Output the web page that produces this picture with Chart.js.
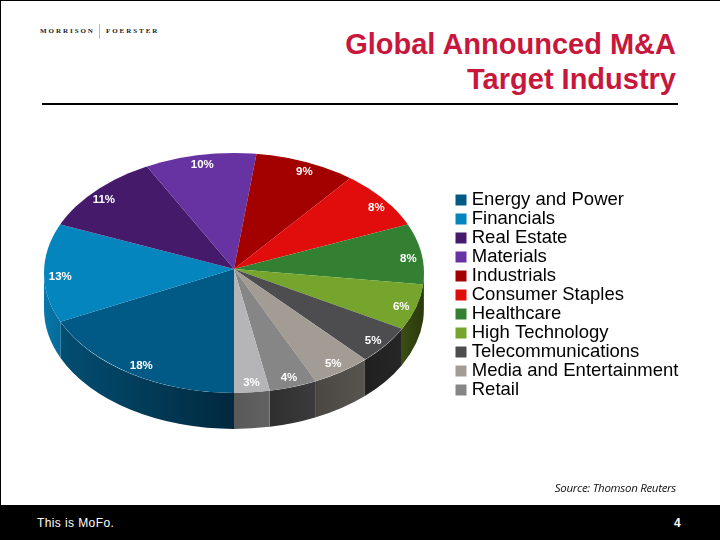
<!DOCTYPE html>
<html>
<head>
<meta charset="utf-8">
<title>Global Announced M&amp;A Target Industry</title>
<script src="https://cdn.jsdelivr.net/npm/chart.js@4"></script>
<style>
  html, body { margin: 0; padding: 0; background: #fff; }
  #slide { position: relative; width: 720px; height: 540px; overflow: hidden; font-family: "Liberation Sans", Arial, sans-serif; }
  #slide div { position: absolute; white-space: nowrap; }
  canvas { position: absolute; left: 0; top: 0; }
  #edgeTop { left: 0; top: 0; width: 720px; height: 1px; background: #000; }
  #edgeLeft { left: 0; top: 0; width: 1px; height: 505px; background: #000; }
  #logoA, #logoB { top: 27px; font: bold 7px "Liberation Serif", serif; letter-spacing: 1.95px; color: #222; }
  #logoA { left: 40px; }
  #logoB { left: 106px; }
  #logoBar { left: 99px; top: 24px; width: 1px; height: 15px; background: #bbb; }
  #title { right: 44px; top: 27px; text-align: right; font-weight: bold; font-size: 29px; line-height: 35px; color: #c8173c; }
  #rule { left: 42px; top: 103px; width: 636px; height: 2px; background: #000; }
  #source { right: 44px; top: 480px; font: italic 11.5px "Open Sans", sans-serif; letter-spacing: -0.3px; color: #111; }
  #footer { left: 0; top: 505px; width: 720px; height: 35px; background: #000; }
  #tagline { left: 37px; top: 516px; font-size: 12px; letter-spacing: 0.4px; color: #fff; }
  #page { left: 674px; top: 516px; font-size: 12px; font-weight: bold; color: #fff; }
</style>
</head>
<body>
<div id="slide">
  <div id="edgeTop"></div>
  <div id="edgeLeft"></div>
  <div id="logoA">MORRISON</div>
  <div id="logoBar"></div>
  <div id="logoB">FOERSTER</div>
  <div id="title">Global Announced M&amp;A<br>Target Industry</div>
  <div id="rule"></div>
  <canvas id="pie" width="720" height="540"></canvas>
  <div id="source">Source: Thomson Reuters</div>
  <div id="footer"></div>
  <div id="tagline">This is MoFo.</div>
  <div id="page">4</div>
</div>
<script>
// the legend in the picture only lists 11 names, the 12th slice (3%) has none
const categories = ['Energy and Power', 'Financials', 'Real Estate', 'Materials', 'Industrials',
  'Consumer Staples', 'Healthcare', 'High Technology', 'Telecommunications', 'Media and Entertainment', 'Retail'];
const shares = [18, 13, 11, 10, 9, 8, 8, 6, 5, 5, 4, 3];
const topColors = ['#005a85', '#0585be', '#451a6a', '#6733a3', '#a30000', '#e10d0d',
  '#338033', '#76a52e', '#4d4d4f', '#a39c94', '#868686', '#b5b5b8'];
const wallLeft = ['#034e72', '#0778ab', '#2d1047', '#42216b', '#6b0000', '#8f0808',
  '#1e4a20', '#3a4d12', '#202020', '#4a4642', '#2e2e2e', '#595959'];
const wallRight = ['#01283e', '#056a97', '#2d1047', '#42216b', '#6b0000', '#8f0808',
  '#1e4a20', '#2a3a0c', '#262626', '#58544f', '#3c3c3c', '#626262'];

const SQUASH = 120 / 190;   // tilt of the pie
const DEPTH = 36;           // height of the side wall
const APEX_UP = 4;          // perspective: slices meet above the middle of the ellipse
const LABEL_POS = 0.92;     // where the percent sits along the radius

// angle on the rim where a slice edge really lands, since the apex is off centre
function rimAngle(el, a) {
  const rx = el.outerRadius, ry = rx * SQUASH, k = rx / ry;
  const dx = Math.cos(a), dy = Math.sin(a) * (ry + APEX_UP) / rx;
  const A = dx * dx + k * k * dy * dy;
  const B = -2 * k * k * dy * APEX_UP;
  const C = k * k * APEX_UP * APEX_UP - rx * rx;
  const t = (-B + Math.sqrt(B * B - 4 * A * C)) / (2 * A);
  const rim = Math.atan2((t * dy - APEX_UP) * k, t * dx);
  return a + Math.atan2(Math.sin(rim - a), Math.cos(rim - a));
}

// side wall of one slice, only the part facing the viewer
function drawWall(ctx, el, i) {
  const rx = el.outerRadius, ry = rx * SQUASH;
  const s = rimAngle(el, el.startAngle), e = rimAngle(el, el.endAngle);
  [[0, Math.PI], [2 * Math.PI, 3 * Math.PI]].forEach(([lo, hi]) => {
    const a0 = Math.max(s, lo), a1 = Math.min(e, hi);
    if (a1 <= a0) return;
    const x0 = el.x + rx * Math.cos(a0), x1 = el.x + rx * Math.cos(a1);
    const g = ctx.createLinearGradient(Math.min(x0, x1), 0, Math.max(x0, x1), 0);
    g.addColorStop(0, wallLeft[i]);
    g.addColorStop(1, wallRight[i]);
    ctx.fillStyle = g;
    ctx.beginPath();
    ctx.ellipse(el.x, el.y, rx, ry, 0, a0, a1);
    ctx.ellipse(el.x, el.y + DEPTH, rx, ry, 0, a1, a0, true);
    ctx.closePath();
    ctx.fill();
  });
}

const tiltedPie = {
  id: 'tiltedPie',
  afterLayout(chart) {
    // legend does not sit in the layout, put it right of the pie
    const lg = chart.legend;
    lg.left = 459; lg.right = 720;
    lg.top = 190.25; lg.bottom = 540;
    lg.draw = () => lg._draw();   // no clip, the swatch stroke sticks out on the left
  },
  beforeDatasetsDraw(chart) {
    const ctx = chart.ctx;
    const arcs = chart.getDatasetMeta(0).data;
    const first = arcs[0];
    const cx = first.x, cy = first.y, rx = first.outerRadius, ry = rx * SQUASH;
    arcs.forEach((el, i) => drawWall(ctx, el, i));
    ctx.save();
    // rim stays on the ellipse, the arcs are drawn a bit larger around the raised apex
    ctx.beginPath();
    ctx.ellipse(cx, cy, rx, ry, 0, 0, 2 * Math.PI);
    ctx.clip();
    ctx.translate(cx, cy - APEX_UP);
    ctx.scale(1.01, (ry + APEX_UP) / rx);
    ctx.translate(-cx, -cy);
  },
  afterDatasetsDraw(chart) {
    const ctx = chart.ctx;
    ctx.restore();
    ctx.save();
    ctx.fillStyle = '#fff';
    ctx.font = 'bold 11.5px "Liberation Sans", Arial, sans-serif';
    ctx.textAlign = 'center';
    ctx.textBaseline = 'middle';
    chart.getDatasetMeta(0).data.forEach((el, i) => {
      const mid = (el.startAngle + el.endAngle) / 2;
      const r = el.outerRadius * LABEL_POS;
      ctx.fillText(shares[i] + '%', el.x + 1 + r * Math.cos(mid), el.y + r * SQUASH * Math.sin(mid));
    });
    ctx.restore();
  }
};

new Chart(document.getElementById('pie').getContext('2d'), {
  type: 'pie',
  data: {
    labels: categories,
    datasets: [{ data: shares, backgroundColor: topColors, borderWidth: 0, clip: false }]
  },
  options: {
    responsive: false,
    animation: false,
    rotation: 180,
    layout: { padding: { left: 44, right: 296, top: 83, bottom: 77 } },
    plugins: {
      tooltip: { enabled: false },
      title: { display: false },
      legend: {
        position: 'chartArea',
        align: 'start',
        labels: {
          color: '#2c2c2c',
          font: { family: '"Liberation Sans", Arial, sans-serif', size: 18.5 },
          boxWidth: 3,
          boxHeight: 3,
          padding: 0.5,
          // thick stroke round a small box: gives an 11px swatch close to the text
          generateLabels: () => categories.map((name, i) => ({
            text: name, fillStyle: topColors[i], strokeStyle: topColors[i], lineWidth: 8, index: i, hidden: false
          }))
        }
      }
    }
  },
  plugins: [tiltedPie]
});
</script>
</body>
</html>
